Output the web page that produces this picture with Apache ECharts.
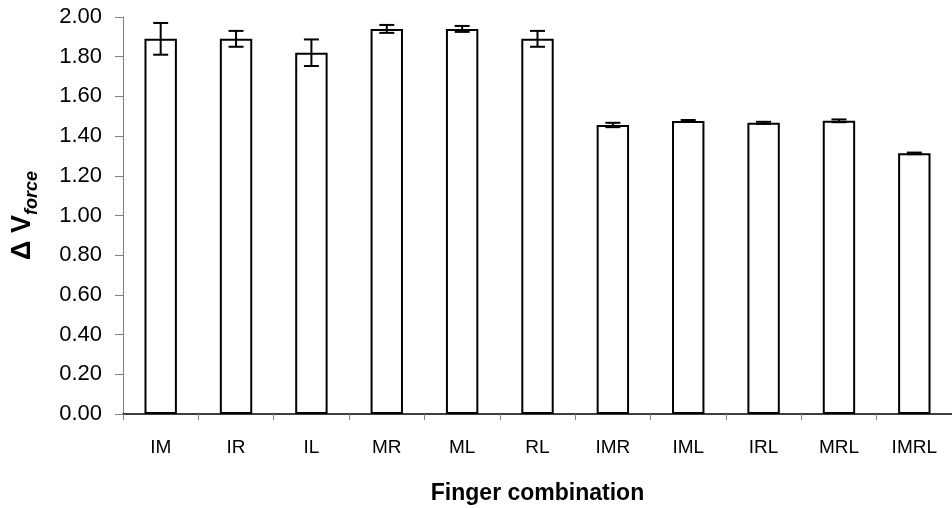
<!DOCTYPE html>
<html><head><meta charset="utf-8">
<script src="https://cdn.jsdelivr.net/npm/echarts@6/dist/echarts.min.js"></script>
<style>html,body{margin:0;padding:0;background:#fff}#c{width:952px;height:508px}</style>
</head><body><div id="c"></div>
<script>
var categories = ['IM','IR','IL','MR','ML','RL','IMR','IML','IRL','MRL','IMRL'];
var means = [1.89, 1.89, 1.82, 1.94, 1.94, 1.89, 1.456, 1.476, 1.467, 1.477, 1.313];
var errors = [0.08, 0.04, 0.067, 0.02, 0.015, 0.04, 0.011, 0.005, 0.005, 0.007, 0.004];
var yTicks = [0, 0.2, 0.4, 0.6, 0.8, 1.0, 1.2, 1.4, 1.6, 1.8, 2.0];

var chart = echarts.init(document.getElementById('c'));
var errData = categories.map(function(c, i){ return [i, means[i] - errors[i], means[i] + errors[i]]; });
chart.setOption({
  animation: false,
  backgroundColor: '#fff',
  grid: {left: 123, right: 0, top: 17, bottom: 94, containLabel: false, outerBoundsMode: 'none'},
  xAxis: {
    type: 'category', data: categories,
    axisLine: {lineStyle: {color: '#000', width: 1.5}},
    axisTick: {show: true, alignWithLabel: false, length: 6, lineStyle: {color: '#808080'}},
    axisLabel: {color: '#000', fontFamily: 'Liberation Sans, Arial', fontSize: 19, margin: 24},
    name: 'Finger combination', nameLocation: 'middle', nameGap: 68,
    nameTextStyle: {color: '#000', fontFamily: 'Liberation Sans, Arial', fontSize: 23, fontWeight: 'bold'}
  },
  yAxis: {
    type: 'value', min: 0, max: yTicks[yTicks.length-1], interval: yTicks[1] - yTicks[0],
    splitLine: {show: false},
    axisLine: {show: true, lineStyle: {color: '#808080', width: 1}},
    axisTick: {show: true, length: 8, lineStyle: {color: '#808080'}},
    axisLabel: {color: '#000', fontFamily: 'Liberation Sans, Arial', fontSize: 22, margin: 21,
      formatter: function(v){ return v.toFixed(2); }},
    name: '{d|\u0394 V}{s|force}', nameLocation: 'middle', nameGap: 87, nameRotate: 90,
    nameTextStyle: {
      rich: {
        d: {fontFamily: 'Liberation Sans, Arial', fontSize: 27, fontWeight: 'bold', color: '#000', verticalAlign: 'bottom', lineHeight: 30},
        s: {fontFamily: 'Liberation Sans, Arial', fontSize: 18, fontWeight: 'bold', fontStyle: 'italic', color: '#000', verticalAlign: 'bottom', lineHeight: 22, padding: [0,0,-5,0]}
      }
    }
  },
  series: [{
    type: 'bar', data: means, barWidth: '43%',
    itemStyle: {color: '#fff', borderColor: '#000', borderWidth: 2}
  }, {
    type: 'custom',
    data: errData,
    renderItem: function(params, api){
      var x = api.value(0);
      var lo = api.coord([x, api.value(1)]);
      var hi = api.coord([x, api.value(2)]);
      var hw = 7.5;
      var st = {stroke: '#000', lineWidth: 2};
      return {type: 'group', children: [
        {type: 'line', shape: {x1: lo[0], y1: lo[1], x2: hi[0], y2: hi[1]}, style: st},
        {type: 'line', shape: {x1: lo[0]-hw, y1: lo[1], x2: lo[0]+hw, y2: lo[1]}, style: st},
        {type: 'line', shape: {x1: hi[0]-hw, y1: hi[1], x2: hi[0]+hw, y2: hi[1]}, style: st}
      ]};
    },
    z: 5
  }]
});
</script></body></html>
